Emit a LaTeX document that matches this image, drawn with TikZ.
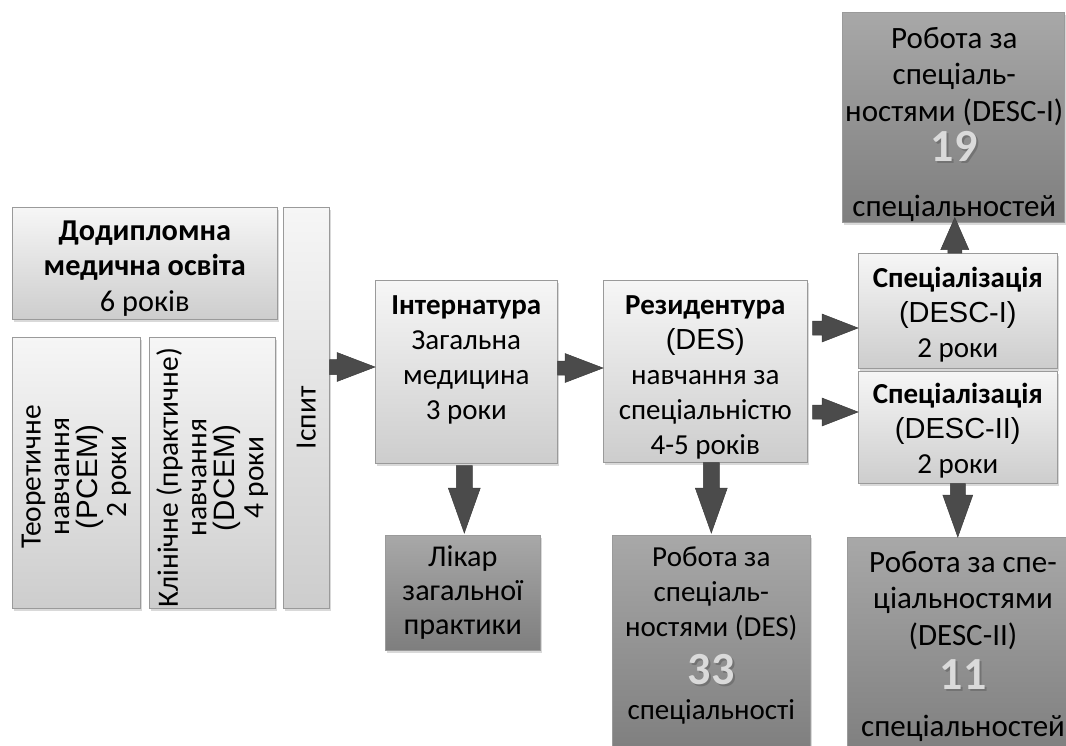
\documentclass[tikz,border=0pt]{standalone}
\usepackage{fontspec}
\setmainfont{Carlito}
\newfontfamily\arialf{Liberation Sans}
\usetikzlibrary{calc,shadows}
\definecolor{lt}{HTML}{F6F6F6}
\definecolor{lb}{HTML}{CDCDCD}
\definecolor{dt}{HTML}{A8A8A8}
\definecolor{db}{HTML}{7E7E7E}
\definecolor{bd}{HTML}{9A9A9A}
\definecolor{af}{HTML}{4B4B4B}
\definecolor{numc}{HTML}{DADADA}
\newcommand\bigsz{\fontsize{29}{35}\selectfont}
\newcommand\dodsz{\fontsize{30.3}{35.5}\selectfont}
\newcommand\darksz{\fontsize{31}{36.5}\selectfont}
\newcommand\liksz{\fontsize{30.2}{34}\selectfont}
\newcommand\rotsz{\fontsize{29.5}{28.5}\selectfont}
\newcommand\numtxt[1]{{\fontsize{46}{46}\selectfont\bfseries\makebox[0pt][l]{\hspace{2pt}\raisebox{-2pt}{\color{black!55}#1}}\color{numc}#1}}
\newcommand\blockarrow[5]{%
  \coordinate (bA) at #1; \coordinate (bB) at #2;
  \coordinate (bH) at ($(bB)!#3!(bA)$);
  \filldraw[arrowst] ($(bA)!#5!90:(bB)$) -- ($(bH)!#5!90:(bB)$) -- ($(bH)!#4!90:(bB)$) -- (bB)
    -- ($(bH)!#4!-90:(bB)$) -- ($(bH)!#5!-90:(bB)$) -- ($(bA)!#5!-90:(bB)$) -- cycle;}
\tikzset{
  box/.style={draw=bd, line width=0.6pt, anchor=north west, inner sep=0pt, align=center,
    font=\bigsz, drop shadow={shadow xshift=2pt, shadow yshift=-2.5pt, opacity=0.3}},
  lightbox/.style={box, top color=lt, bottom color=lb},
  darkbox/.style={box, top color=dt, bottom color=db},
  boxtext/.style={align=center, inner sep=0pt},
  arrowst/.style={fill=af, draw=af!80!black, line width=0.5pt},
  rottext/.style={rotate=90, align=center, font=\rotsz, inner sep=0pt}
}
\begin{document}
\begin{tikzpicture}[x=1pt,y=-1pt]
\useasboundingbox (0,0) rectangle (1066,745);
% left group
\node[lightbox, minimum width=265pt, minimum height=112pt] (dod) at (12,207) {};
\node[boxtext, font=\dodsz] (dodt) at ($(dod.center)+(0,5)$)
  {\textbf{Додипломна}\\\textbf{медична освіта}\\6 років};
\node[lightbox, minimum width=128pt, minimum height=271pt] (teo) at (12,337) {};
\node[rottext] (teot) at ($(teo.center)+(0,4)$) {Теоретичне\\навчання\\{\arialf (PCEM)}\\2 роки};
\node[lightbox, minimum width=126pt, minimum height=271pt] (kli) at (149,337) {};
\node[rottext] (klit) at ($(kli.center)+(0,5)$) {Клінічне (практичне)\\навчання\\{\arialf (DCEM)}\\4 роки};
\node[lightbox, minimum width=46pt, minimum height=401pt] (isp) at (283,207) {};
\node[rottext] (ispt) at ($(isp.center)+(0,10)$) {Іспит};
% middle
\node[lightbox, minimum width=182pt, minimum height=183pt] (int) at (375,280) {};
\node[boxtext, font=\bigsz] (intt) at ($(int.center)+(0,-12)$)
  {\textbf{Інтернатура}\\Загальна\\медицина\\3 роки};
\node[lightbox, minimum width=204pt, minimum height=182pt] (res) at (603,280) {};
\node[boxtext, font=\bigsz] (rest) at ($(res.center)+(0,6)$)
  {\textbf{Резидентура}\\{\arialf (DES)}\\навчання за\\спеціальністю\\4-5 років};
\node[lightbox, minimum width=199pt, minimum height=115pt] (s1) at (858,253) {};
\node[boxtext, font=\bigsz] (s1t) at ($(s1.center)+(0,4)$)
  {\textbf{Спеціалізація}\\{\arialf (DESC-I)}\\2 роки};
\node[lightbox, minimum width=199pt, minimum height=112pt] (s2) at (858,371) {};
\node[boxtext, font=\bigsz] (s2t) at ($(s2.center)+(0,3)$)
  {\textbf{Спеціалізація}\\{\arialf (DESC-II)}\\2 роки};
% dark boxes
\node[darkbox, minimum width=222pt, minimum height=210pt] (d1) at (842,12) {};
\node[boxtext, font=\darksz] (d1t) at ($(d1.center)+(1,7)$)
  {Робота за\\спеціаль-\\ностями (DESC-I)\\[4pt]\numtxt{19}\\[18pt]спеціальностей};
\node[darkbox, minimum width=155pt, minimum height=115pt, font=\liksz] (lik) at (385,535)
  {Лікар\\загальної\\практики};
\node[darkbox, minimum width=198pt, minimum height=220pt] (des) at (612,535) {};
\node[boxtext, font=\bigsz] (dest) at (des.north |- 0,635)
  {Робота за\\спеціаль-\\ностями (DES)\\[13pt]\numtxt{33}\\[0pt]спеціальності};
\node[darkbox, minimum width=225pt, minimum height=220pt] (d2) at (847,537) {};
\node[boxtext, font=\darksz] (d2t) at (963,646)
  {Робота за спе-\\ціальностями\\(DESC-II)\\[8pt]\numtxt{11}\\[10pt]спеціальностей};
% arrows
\blockarrow{(isp.east |- 0,367)}{(int.west |- 0,367)}{38pt}{14.5pt}{7.5pt}
\blockarrow{(int.east |- 0,368)}{(res.west |- 0,368)}{38pt}{14.5pt}{7pt}
\blockarrow{($(res.east |- 0,328)+(5,0)$)}{(s1.west |- 0,328)}{36pt}{14pt}{7pt}
\blockarrow{($(res.east |- 0,412)+(5,0)$)}{(s2.west |- 0,412)}{36pt}{14pt}{7pt}
\blockarrow{($(s1.north)+(-3,0)$)}{($(s1.north |- d1.south)+(-3,-5)$)}{32pt}{14pt}{7pt}
\blockarrow{(s2.south)}{(s2.south |- d2.north)}{42pt}{15pt}{7.5pt}
\blockarrow{($(int.south)+(-2,2)$)}{($(int.south |- lik.north)+(-2,-2)$)}{45pt}{16pt}{8pt}
\blockarrow{(des.north |- res.south)}{($(des.north)+(0,-2)$)}{45pt}{16pt}{8pt}
\end{tikzpicture}
\end{document}
